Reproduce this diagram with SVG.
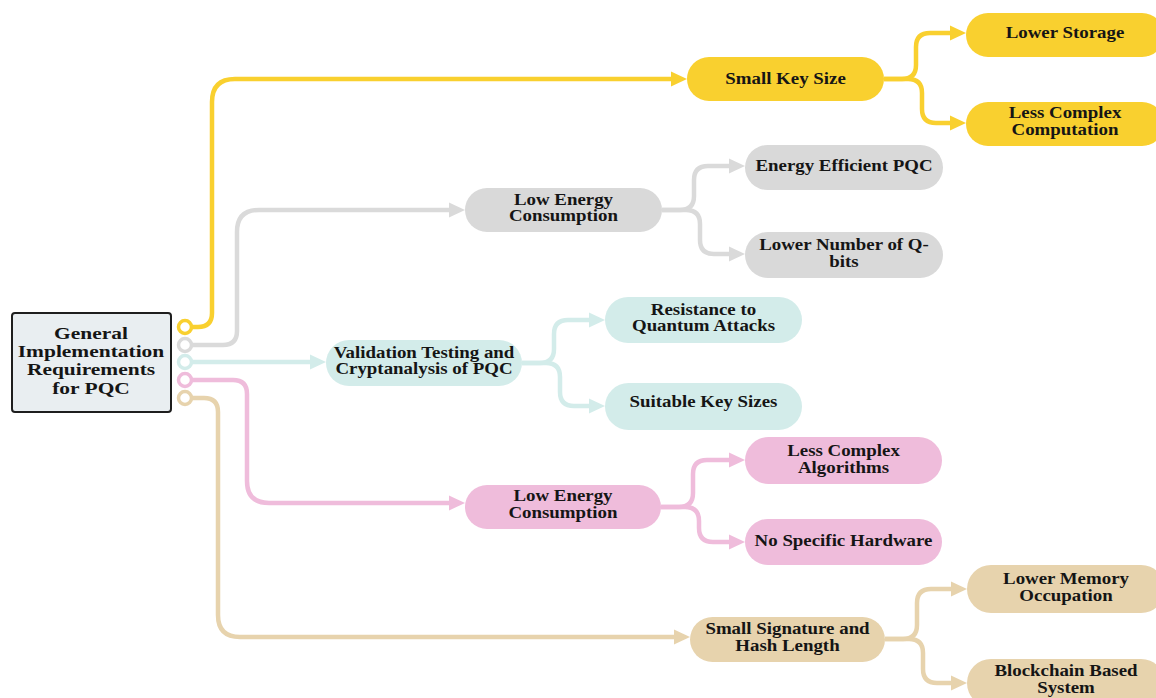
<svg xmlns="http://www.w3.org/2000/svg" width="1156" height="698" viewBox="0 0 1156 698">
<style>
.t{font-family:"Liberation Serif","Times New Roman",serif;font-weight:bold;font-size:16px;fill:#151515;text-anchor:middle}
.rt{font-family:"Liberation Serif","Times New Roman",serif;font-weight:bold;font-size:16.5px;fill:#151515;text-anchor:middle}
.ln{fill:none;stroke-width:4.5;stroke-linecap:butt;stroke-linejoin:round}
.y{fill:#f9d02f}.g{fill:#d9d9d9}.c{fill:#d3ecea}.p{fill:#efbcdb}.b{fill:#e7d3ad}
.sy{stroke:#f9d02f}.sg{stroke:#dadada}.sc{stroke:#d3ecea}.sp{stroke:#efbcdb}.sb{stroke:#e7d3ad}
.ring{fill:#fff;stroke-width:3.5}
</style>
<defs>
<marker id="ay" markerUnits="userSpaceOnUse" markerWidth="18" markerHeight="18" refX="0" refY="8" orient="auto" overflow="visible"><path d="M0,0.5 L16,8 L0,15.5 z" fill="#f9d02f"/></marker>
<marker id="ag" markerUnits="userSpaceOnUse" markerWidth="18" markerHeight="18" refX="0" refY="8" orient="auto" overflow="visible"><path d="M0,0.5 L16,8 L0,15.5 z" fill="#dadada"/></marker>
<marker id="ac" markerUnits="userSpaceOnUse" markerWidth="18" markerHeight="18" refX="0" refY="8" orient="auto" overflow="visible"><path d="M0,0.5 L16,8 L0,15.5 z" fill="#d3ecea"/></marker>
<marker id="ap" markerUnits="userSpaceOnUse" markerWidth="18" markerHeight="18" refX="0" refY="8" orient="auto" overflow="visible"><path d="M0,0.5 L16,8 L0,15.5 z" fill="#efbcdb"/></marker>
<marker id="ab" markerUnits="userSpaceOnUse" markerWidth="18" markerHeight="18" refX="0" refY="8" orient="auto" overflow="visible"><path d="M0,0.5 L16,8 L0,15.5 z" fill="#e7d3ad"/></marker>
</defs>
<rect width="1156" height="698" fill="#fff"/>

<g id="connectors">
<path class="ln sy" marker-end="url(#ay)" d="M191 327 H198 Q212 327 212 313 V102 Q212 79 235 79 H671"/>
<path class="ln sg" marker-end="url(#ag)" d="M191 345 H223 Q237 345 237 331 V232 Q237 210 259 210 H449"/>
<path class="ln sc" marker-end="url(#ac)" d="M191 362 H310"/>
<path class="ln sp" marker-end="url(#ap)" d="M191 380 H233 Q247 380 247 394 V481 Q247 503 269 503 H449"/>
<path class="ln sb" marker-end="url(#ab)" d="M191 398 H204 Q218 398 218 412 V615 Q218 637 240 637 H674"/>

<path class="ln sy" marker-end="url(#ay)" d="M884 79 H902 Q916 79 916 65 V47 Q916 33 930 33 H950"/>
<path class="ln sy" marker-end="url(#ay)" d="M884 79 H908 Q922 79 922 93 V109 Q922 123 936 123 H950"/>

<path class="ln sg" marker-end="url(#ag)" d="M662 210 H680 Q694 210 694 196 V180 Q694 166 708 166 H729"/>
<path class="ln sg" marker-end="url(#ag)" d="M662 210 H686 Q700 210 700 224 V240 Q700 254 714 254 H729"/>

<path class="ln sc" marker-end="url(#ac)" d="M522 363 H540 Q554 363 554 349 V334 Q554 320 568 320 H589"/>
<path class="ln sc" marker-end="url(#ac)" d="M522 363 H546 Q560 363 560 377 V392 Q560 406 574 406 H589"/>

<path class="ln sp" marker-end="url(#ap)" d="M661 507 H679 Q693 507 693 493 V474 Q693 460 707 460 H729"/>
<path class="ln sp" marker-end="url(#ap)" d="M661 507 H685 Q699 507 699 521 V528 Q699 542 713 542 H729"/>

<path class="ln sb" marker-end="url(#ab)" d="M885 639 H903 Q917 639 917 625 V603 Q917 589 931 589 H951"/>
<path class="ln sb" marker-end="url(#ab)" d="M885 639 H909 Q923 639 923 653 V669 Q923 683 937 683 H951"/>

<circle class="ring sy" cx="185" cy="327" r="6.5"/>
<circle class="ring sg" cx="185" cy="345" r="6.5"/>
<circle class="ring sc" cx="185" cy="362" r="6.5"/>
<circle class="ring sp" cx="185" cy="380" r="6.5"/>
<circle class="ring sb" cx="185" cy="398" r="6.5"/>
</g>

<g id="root">
<rect x="12" y="313" width="159" height="99" rx="3" fill="#e9eef1" stroke="#1e1e1e" stroke-width="2"/>
<text class="rt" transform="matrix(1.3,0,0,1,91,339)">General</text>
<text class="rt" transform="matrix(1.3,0,0,1,91,357)">Implementation</text>
<text class="rt" transform="matrix(1.3,0,0,1,91,375)">Requirements</text>
<text class="rt" transform="matrix(1.3,0,0,1,91,394)">for PQC</text>
</g>

<g id="n-small-key">
<rect class="y" x="687" y="57" width="197" height="44" rx="22"/>
<text class="t" transform="matrix(1.18,0,0,1,785.5,84)">Small Key Size</text>
</g>
<g id="n-lower-storage">
<rect class="y" x="966" y="13" width="198" height="44" rx="22"/>
<text class="t" transform="matrix(1.18,0,0,1,1065,38)">Lower Storage</text>
</g>
<g id="n-less-complex-comp">
<rect class="y" x="966" y="102" width="198" height="44" rx="22"/>
<text class="t" transform="matrix(1.18,0,0,1,1065,118)">Less Complex</text>
<text class="t" transform="matrix(1.18,0,0,1,1065,135)">Computation</text>
</g>

<g id="n-low-energy-1">
<rect class="g" x="465" y="188" width="197" height="44" rx="22"/>
<text class="t" transform="matrix(1.18,0,0,1,563.5,205)">Low Energy</text>
<text class="t" transform="matrix(1.18,0,0,1,563.5,221)">Consumption</text>
</g>
<g id="n-energy-efficient">
<rect class="g" x="745" y="145" width="198" height="45" rx="22.5"/>
<text class="t" transform="matrix(1.18,0,0,1,844,171)">Energy Efficient PQC</text>
</g>
<g id="n-qbits">
<rect class="g" x="745" y="232" width="198" height="46" rx="23"/>
<text class="t" transform="matrix(1.18,0,0,1,844,250)">Lower Number of Q-</text>
<text class="t" transform="matrix(1.18,0,0,1,844,267)">bits</text>
</g>

<g id="n-validation">
<rect class="c" x="326" y="340" width="196" height="46" rx="23"/>
<text class="t" transform="matrix(1.18,0,0,1,424,358)">Validation Testing and</text>
<text class="t" transform="matrix(1.18,0,0,1,424,374)">Cryptanalysis of PQC</text>
</g>
<g id="n-resistance">
<rect class="c" x="605" y="297" width="197" height="46" rx="23"/>
<text class="t" transform="matrix(1.18,0,0,1,703.5,315)">Resistance to</text>
<text class="t" transform="matrix(1.18,0,0,1,703.5,331)">Quantum Attacks</text>
</g>
<g id="n-suitable">
<rect class="c" x="605" y="383" width="197" height="47" rx="23.5"/>
<text class="t" transform="matrix(1.18,0,0,1,703.5,407)">Suitable Key Sizes</text>
</g>

<g id="n-low-energy-2">
<rect class="p" x="465" y="485" width="196" height="44" rx="22"/>
<text class="t" transform="matrix(1.18,0,0,1,563,501)">Low Energy</text>
<text class="t" transform="matrix(1.18,0,0,1,563,518)">Consumption</text>
</g>
<g id="n-less-complex-alg">
<rect class="p" x="745" y="437" width="197" height="47" rx="23.5"/>
<text class="t" transform="matrix(1.18,0,0,1,843.5,456)">Less Complex</text>
<text class="t" transform="matrix(1.18,0,0,1,843.5,473)">Algorithms</text>
</g>
<g id="n-no-hardware">
<rect class="p" x="745" y="519" width="197" height="46" rx="23"/>
<text class="t" transform="matrix(1.18,0,0,1,843.5,546)">No Specific Hardware</text>
</g>

<g id="n-small-signature">
<rect class="b" x="690" y="617" width="195" height="45" rx="22.5"/>
<text class="t" transform="matrix(1.18,0,0,1,787.5,634)">Small Signature and</text>
<text class="t" transform="matrix(1.18,0,0,1,787.5,651)">Hash Length</text>
</g>
<g id="n-lower-memory">
<rect class="b" x="967" y="565" width="198" height="48" rx="24"/>
<text class="t" transform="matrix(1.18,0,0,1,1066,584)">Lower Memory</text>
<text class="t" transform="matrix(1.18,0,0,1,1066,601)">Occupation</text>
</g>
<g id="n-blockchain">
<rect class="b" x="967" y="659" width="198" height="48" rx="24"/>
<text class="t" transform="matrix(1.18,0,0,1,1066,676)">Blockchain Based</text>
<text class="t" transform="matrix(1.18,0,0,1,1066,693)">System</text>
</g>
</svg>
